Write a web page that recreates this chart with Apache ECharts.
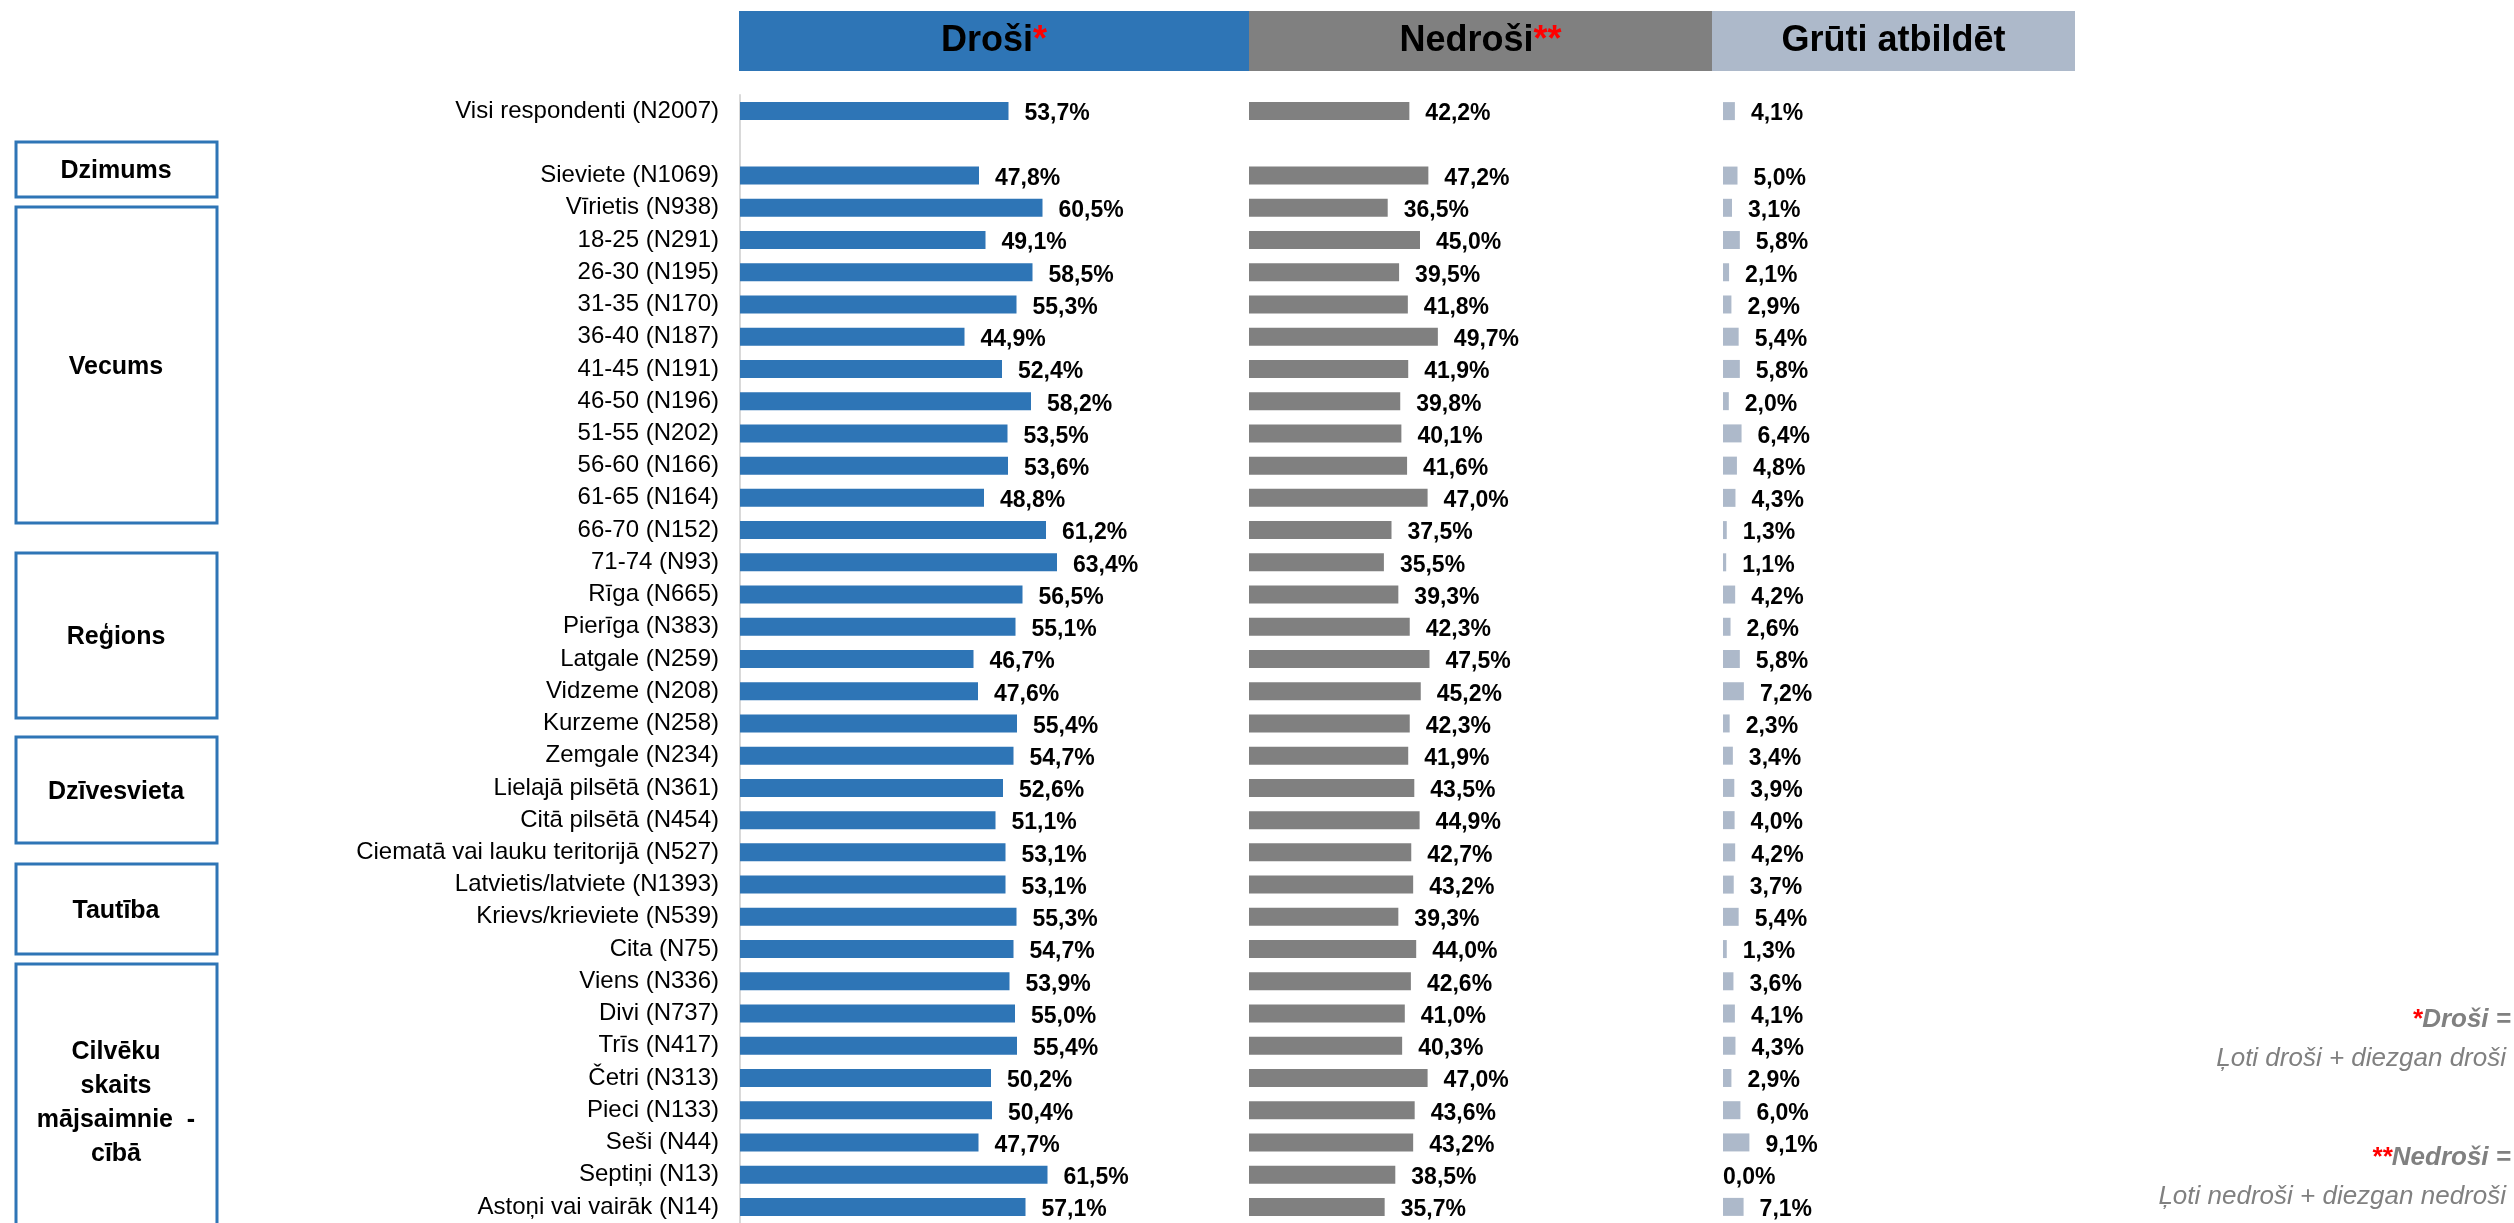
<!DOCTYPE html>
<html>
<head>
<meta charset="utf-8">
<script src="https://cdn.jsdelivr.net/npm/echarts@6/dist/echarts.min.js"></script>
<style>
  html, body { margin: 0; padding: 0; background: #fff; }
  #chart { width: 2514px; height: 1223px; }
</style>
</head>
<body>
<div id="chart"></div>
<script>
// kategorijas (tukša rinda starp "Visi respondenti" un dzimumu)
const categories = [
  'Visi respondenti (N2007)', '',
  'Sieviete (N1069)', 'Vīrietis (N938)',
  '18-25 (N291)', '26-30 (N195)', '31-35 (N170)', '36-40 (N187)', '41-45 (N191)',
  '46-50 (N196)', '51-55 (N202)', '56-60 (N166)', '61-65 (N164)', '66-70 (N152)', '71-74 (N93)',
  'Rīga (N665)', 'Pierīga (N383)', 'Latgale (N259)', 'Vidzeme (N208)', 'Kurzeme (N258)', 'Zemgale (N234)',
  'Lielajā pilsētā (N361)', 'Citā pilsētā (N454)', 'Ciematā vai lauku teritorijā (N527)',
  'Latvietis/latviete (N1393)', 'Krievs/krieviete (N539)', 'Cita (N75)',
  'Viens (N336)', 'Divi (N737)', 'Trīs (N417)', 'Četri (N313)', 'Pieci (N133)', 'Seši (N44)',
  'Septiņi (N13)', 'Astoņi vai vairāk (N14)'
]
const drosi = [
  53.7, '-',
  47.8, 60.5,
  49.1, 58.5, 55.3, 44.9, 52.4, 58.2, 53.5, 53.6, 48.8, 61.2, 63.4,
  56.5, 55.1, 46.7, 47.6, 55.4, 54.7,
  52.6, 51.1, 53.1,
  53.1, 55.3, 54.7,
  53.9, 55.0, 55.4, 50.2, 50.4, 47.7, 61.5, 57.1
]
const nedrosi = [
  42.2, '-',
  47.2, 36.5,
  45.0, 39.5, 41.8, 49.7, 41.9, 39.8, 40.1, 41.6, 47.0, 37.5, 35.5,
  39.3, 42.3, 47.5, 45.2, 42.3, 41.9,
  43.5, 44.9, 42.7,
  43.2, 39.3, 44.0,
  42.6, 41.0, 40.3, 47.0, 43.6, 43.2, 38.5, 35.7
]
const gruti = [
  4.1, '-',
  5.0, 3.1,
  5.8, 2.1, 2.9, 5.4, 5.8, 2.0, 6.4, 4.8, 4.3, 1.3, 1.1,
  4.2, 2.6, 5.8, 7.2, 2.3, 3.4,
  3.9, 4.0, 4.2,
  3.7, 5.4, 1.3,
  3.6, 4.1, 4.3, 2.9, 6.0, 9.1, 0.0, 7.1
]
// grupu rāmji kreisajā pusē
const groups = [
  { name: 'Dzimums', y: 142, h: 55 },
  { name: 'Vecums', y: 207, h: 316 },
  { name: 'Reģions', y: 553, h: 165 },
  { name: 'Dzīvesvieta', y: 737, h: 106 },
  { name: 'Tautība', y: 864, h: 90 },
  { name: 'Cilvēku\nskaits\nmājsaimnie  -\ncībā', y: 964, h: 300, textY: 1103 }
]

const FONT = '"Liberation Sans", Arial, sans-serif'
const BLUE = '#2E75B6'
const GREY = '#808080'
const LIGHT = '#ADB9CA'

const fmt = p => p.value.toFixed(1).replace('.', ',') + '%'

const chart = echarts.init(document.getElementById('chart'))

const gridTop = 95
const gridH = 1133
const grids = [
  { left: 740, width: 500 },
  { left: 1249, width: 380 },
  { left: 1723, width: 290 }
]

function makeSeries (idx, data, color) {
  return {
    type: 'bar',
    xAxisIndex: idx,
    yAxisIndex: idx,
    barWidth: 18,
    itemStyle: { color: color },
    label: {
      show: true,
      position: 'right',
      distance: 16,
      offset: [0, 3],
      color: '#000',
      fontFamily: FONT,
      fontWeight: 'bold',
      fontSize: 23,
      formatter: fmt
    },
    data: data.map(v => v === 0 ? { value: v, label: { distance: 0 } } : v),
    animation: false
  }
}

const graphic = []
// virsraksti
const heads = [
  { x: 739, w: 510, fill: BLUE, text: 'Droši', star: '*' },
  { x: 1249, w: 463, fill: GREY, text: 'Nedroši', star: '**' },
  { x: 1712, w: 363, fill: LIGHT, text: 'Grūti atbildēt', star: '' }
]
heads.forEach(h => {
  graphic.push({
    type: 'rect',
    shape: { x: h.x, y: 11, width: h.w, height: 60 },
    style: { fill: h.fill }
  })
  graphic.push({
    type: 'text',
    x: h.x + h.w / 2,
    y: 41,
    style: {
      text: '{t|' + h.text + '}{s|' + h.star + '}',
      align: 'center',
      verticalAlign: 'middle',
      rich: {
        t: { fontFamily: FONT, fontWeight: 'bold', fontSize: 36, fill: '#000' },
        s: { fontFamily: FONT, fontWeight: 'bold', fontSize: 36, fill: '#FF0000' }
      }
    }
  })
})
groups.forEach(g => {
  graphic.push({
    type: 'rect',
    shape: { x: 16, y: g.y, width: 201, height: g.h },
    style: { fill: '#fff', stroke: BLUE, lineWidth: 3 }
  })
  graphic.push({
    type: 'text',
    x: 116,
    y: g.textY || (g.y + g.h / 2 + 2),
    style: {
      text: g.name,
      align: 'center',
      verticalAlign: 'middle',
      lineHeight: 34,
      font: 'bold 25px ' + FONT,
      fill: '#000'
    }
  })
})
// piezīmes labajā pusē
const notes = [
  { y: 1020, star: '*', bold: 'Droši =', plain: 'Ļoti droši + diezgan droši' },
  { y: 1158, star: '**', bold: 'Nedroši =', plain: 'Ļoti nedroši + diezgan nedroši' }
]
notes.forEach(n => {
  graphic.push({
    type: 'text',
    x: 2511,
    y: n.y,
    style: {
      text: '{s|' + n.star + '}{b|' + n.bold + '}',
      align: 'right',
      verticalAlign: 'middle',
      rich: {
        s: { fontFamily: FONT, fontWeight: 'bold', fontStyle: 'italic', fontSize: 26, fill: '#FF0000' },
        b: { fontFamily: FONT, fontWeight: 'bold', fontStyle: 'italic', fontSize: 26, fill: GREY }
      }
    }
  })
  graphic.push({
    type: 'text',
    x: 2506,
    y: n.y + 39,
    style: {
      text: n.plain,
      align: 'right',
      verticalAlign: 'middle',
      font: 'italic 26px ' + FONT,
      fill: GREY
    }
  })
})

chart.setOption({
  backgroundColor: '#fff',
  animation: false,
  grid: grids.map(g => ({ left: g.left, width: g.width, top: gridTop, height: gridH, containLabel: false })),
  xAxis: grids.map((g, i) => ({
    type: 'value',
    gridIndex: i,
    min: 0,
    max: 100,
    show: false
  })),
  yAxis: grids.map((g, i) => ({
    type: 'category',
    gridIndex: i,
    inverse: true,
    data: categories,
    axisTick: { show: false },
    axisLine: { show: i === 0, lineStyle: { color: '#D9D9D9', width: 2 } },
    axisLabel: {
      show: i === 0,
      margin: 21,
      color: '#000',
      fontFamily: FONT,
      fontSize: 24
    },
    splitLine: { show: false }
  })),
  series: [
    makeSeries(0, drosi, BLUE),
    makeSeries(1, nedrosi, GREY),
    makeSeries(2, gruti, LIGHT)
  ],
  graphic: graphic
})
</script>
</body>
</html>
